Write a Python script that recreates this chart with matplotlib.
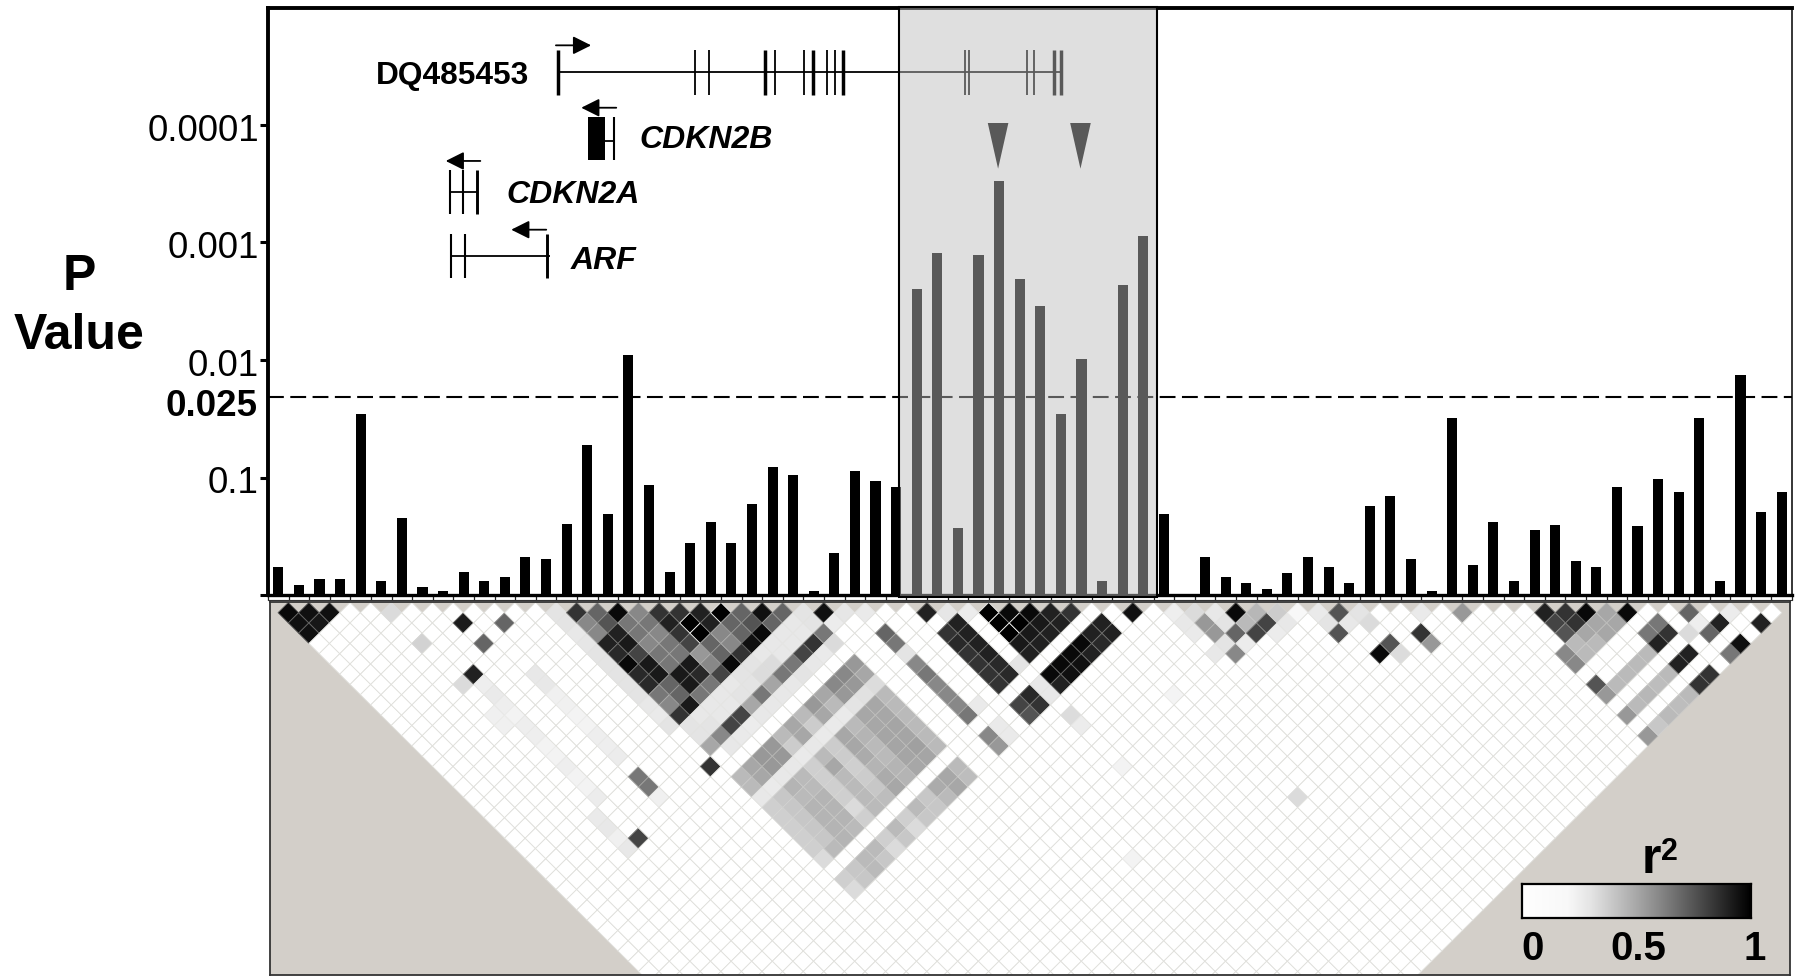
import matplotlib
matplotlib.use('Agg')
import matplotlib.pyplot as plt
from matplotlib.collections import PolyCollection
from matplotlib.colors import LinearSegmentedColormap, to_rgb
from matplotlib.patches import Rectangle
from matplotlib.transforms import ScaledTranslation
import numpy as np

plt.rcParams['font.family'] = ['Liberation Sans', 'DejaVu Sans']

W, H = 1799, 976

# -log10(P) for each SNP, left to right
neglog_p = [0.236, 0.083, 0.134, 0.134, 1.54, 0.117, 0.655, 0.065, 0.031, 0.20,
            0.117, 0.15, 0.326, 0.306, 0.604, 1.28, 0.689, 2.045, 0.934, 0.20,
            0.445, 0.619, 0.445, 0.777, 1.089, 1.019, 0.031, 0.36, 1.053, 0.968,
            0.917, 2.60, 2.913, 0.568, 2.896, 3.523, 2.687, 2.46, 1.54, 2.011,
            0.117, 2.636, 3.053, 0.689, 0.0, 0.326, 0.15, 0.10, 0.049, 0.185,
            0.326, 0.236, 0.10, 0.76, 0.845, 0.306, 0.031, 1.506, 0.253, 0.619,
            0.117, 0.55, 0.60, 0.292, 0.236, 0.917, 0.585, 0.985, 0.879, 1.506,
            0.117, 1.872, 0.706, 0.879]

ytick_pos = [0, 1, 2, 3, 4]
ytick_labels = ['', '0.1', '0.01', '0.001', '0.0001']
threshold_line = 1.683
threshold_label_pos = 1.628
threshold_label = '0.025'

# shaded region, in SNP index units
shade_start = 30.15
shade_end = 42.67
arrow_snps = [35, 39]

# gene tracks, x in SNP index units, y in -log10(P) units
dq_exons_thin = [20.24, 20.90, 24.11, 25.53, 26.64, 27.03, 33.35, 33.54, 36.37, 36.69]
dq_exons_thick = [13.57, 23.63, 25.95, 27.42, 37.68, 38.02]
cdkn2a_exons = [8.33, 8.96, 9.66]
arf_exons = [8.41, 9.06, 13.06]

# r2 by depth (j - i) as {depth: [(i + j, r2), ...]}, unlisted cells are close to 0
ld_by_depth = {
    1: [(1, .97), (3, .95), (5, .95), (11, .33), (27, .3), (29, .85), (31, .7), (33, .97), (35, .6),
        (37, .85), (39, .85), (41, .9), (43, 1), (45, .7), (47, .95), (49, .7), (51, .3), (53, .95),
        (55, .29), (57, .27), (63, .9), (65, .29), (67, .26), (69, 1), (71, .97), (73, .97), (75, .9),
        (77, .85), (83, .95), (87, .25), (89, .33), (91, .28), (93, .97), (95, .45), (97, .38),
        (99, .2), (101, .27), (103, .75), (105, .3), (111, .27), (115, .55), (123, .9), (125, .85),
        (127, .97), (129, .5), (131, .97), (137, .7), (141, .26)],
    2: [(2, .95), (4, .93), (18, .92), (22, .7), (28, .3), (30, .6), (32, .75), (34, .65), (36, .65),
        (38, .9), (40, 1), (42, .9), (44, .7), (46, .75), (48, .7), (50, .285), (52, .3), (54, .26),
        (66, .9), (70, 1), (72, 1), (74, .925), (76, .9), (80, .9), (88, .285), (90, .55), (92, .3),
        (94, .44), (96, .8), (98, .285), (102, .3), (104, .285), (106, .33), (124, .8), (126, .85),
        (128, .5), (130, .5), (134, .65), (138, .25), (140, .9), (144, .9)],
    3: [(3, .95), (29, .28), (31, .6), (33, .9), (35, .65), (37, .6), (39, .85), (41, 1), (43, .6),
        (45, .7), (47, .97), (49, .285), (51, .285), (53, .65), (59, .7), (65, .85), (67, .9), (71, 1),
        (73, .925), (75, .9), (79, .9), (81, .9), (89, .27), (91, .55), (93, .7), (95, .8), (97, .26),
        (103, .75), (111, .85), (125, .75), (127, .5), (129, .5), (133, .65), (135, .85), (137, .33),
        (139, .7)],
    4: [(14, .36), (20, .7), (30, .29), (32, .9), (34, .925), (36, .6), (38, .65), (40, .8), (42, .7),
        (44, .6), (46, .95), (48, .285), (50, .285), (52, .85), (54, .33), (60, .65), (66, .875),
        (68, .9), (72, .925), (74, .9), (78, .97), (80, .875), (92, .3), (94, .26), (108, .75),
        (112, .55), (126, .44), (128, .44), (134, .9), (142, .95)],
    5: [(31, .3), (33, .875), (35, .8), (37, .65), (39, .65), (41, .55), (43, .7), (45, .85), (47, .285),
        (49, .285), (51, .8), (53, .27), (61, .3), (67, .85), (69, .9), (73, .9), (77, .97), (79, .9),
        (91, .285), (93, .6), (107, .97), (109, .325), (125, .6), (127, .44), (133, .44), (137, .9),
        (141, .65)],
    6: [(32, .3), (34, .97), (36, .925), (38, .65), (40, .925), (42, .6), (44, .97), (46, .3), (48, .325),
        (50, .65), (52, .285), (62, .6), (68, .85), (70, .875), (72, .3), (76, .97), (78, .95), (126, .6),
        (132, .44), (136, .9)],
    7: [(19, .9), (25, .28), (33, .3), (35, .875), (37, .925), (39, .925), (41, .875), (43, .8), (45, .3),
        (47, .325), (49, .65), (51, .3), (63, .65), (69, .85), (71, .875), (75, .97), (77, .95),
        (131, .44), (135, .44), (139, .85)],
    8: [(18, .33), (20, .25), (26, .28), (34, .3), (36, .875), (38, .7), (40, .925), (42, .65), (44, .285),
        (46, .3), (48, .51), (50, .285), (64, .6), (70, .85), (74, .285), (76, .9), (128, .75), (130, .44),
        (134, .43), (138, .85)],
    9: [(21, .27), (27, .24), (35, .3), (37, .65), (39, .7), (41, .65), (43, .285), (45, .3), (47, .65),
        (49, .285), (65, .6), (73, .875), (75, .285), (87, .22), (129, .55), (133, .45), (137, .44)],
    10: [(22, .25), (28, .24), (36, .285), (38, .6), (40, .925), (42, .285), (44, .285), (46, .5), (48, .285),
         (66, .6), (68, .27), (72, .8), (74, .85), (132, .44), (136, .43)],
    11: [(21, .24), (23, .23), (29, .23), (37, .27), (39, .85), (41, .285), (43, .285), (45, .8), (47, .285),
         (67, .65), (73, .75), (77, .325), (131, .55), (135, .44)],
    12: [(22, .24), (24, .25), (30, .23), (38, .3), (40, .3), (42, .3), (44, .8), (46, .26), (70, .27),
         (78, .26), (134, .395)],
    13: [(25, .25), (31, .25), (41, .3), (43, .6), (45, .27), (69, .6), (71, .27), (133, .55)],
    14: [(26, .23), (32, .25), (42, .5), (44, .285), (70, .55)],
    15: [(27, .23), (33, .26)],
    16: [(28, .25), (42, .85), (82, .23)],
    17: [(29, .23), (35, .65)],
    18: [(30, .23), (36, .65)],
    19: [(31, .26), (37, .24), (99, .33)],
    21: [(31, .27)],
    22: [(32, .28)],
    23: [(33, .24), (35, .8)],
    24: [(34, .28)],
    25: [(83, .23)],
}

# blocks of moderate LD, rows are SNP i = 14..25
block_first_i = 14
block_a_cols = [31, 32]
block_a = [[.44, .44], [.5, .5], [.55, .55], [.55, .55], [.44, .38], [.5, .5],
           [.44, .38], [.55, .5], [.5, .44], [.6, .55], [.6, .55], [.55, .5]]
block_light_cols = [33]
block_light = [[.285], [.27], [.285], [.285], [.27], [.285],
               [.27], [.27], [.27], [.30], [.31], [.325]]
block_b_cols = [34, 35, 36, 37, 38, 39]
block_b = [[.37, .37, .37, .37, .37, .33],
           [.395, .395, .395, .395, .395, .44],
           [.46, .44, .46, .46, .46, .46],
           [.44, .44, .46, .46, .46, .44],
           [.37, .37, .37, .37, .33, .37],
           [.44, .5, .44, .44, .44, .44],
           [.38, .38, .37, .38, .395, .43],
           [.5, .5, .49, .46, .49, .5],
           [.44, .46, .44, .44, .46, .46],
           [.5, .5, .51, .51, .51, .5],
           [.5, .5, .51, .51, .525, .51],
           [.44, .44, .44, .44, .44, .44]]
block_c_cols = [41, 42]
block_c = [[.37, .33], [.395, .395], [.44, .44], [.44, .395], [.37, .33], [.44, .395],
           [.37, .33], [.44, .395], [.395, .395], [.49, .44], [.5, .5], [.44, .43]]

r2_stops = [0, .2, .3, .4, .5, .6, .7, .8, .9, 1]
r2_grays = [255, 248, 228, 198, 168, 136, 102, 68, 34, 0]
r2_tick_labels = ['0', '0.5', '1']

n_snps = len(neglog_p)
max_depth = 38

snp_px = 20.6      # pixels between SNPs
first_snp_px = 278
decade_px = 117.5
tan = '#d3cfc9'
grid_color = '#e0e0dc'


def add_axes_px(left, top, right, bottom):
    return fig.add_axes([left / W, 1 - bottom / H, (right - left) / W, (bottom - top) / H])


def fig_text(px, py, s, **kw):
    return fig.text(px / W, 1 - py / H, s, **kw)


fig = plt.figure(figsize=(W / 100, H / 100), dpi=100)

# ---------- LD triangle ----------
r2 = {}
for depth, cells in ld_by_depth.items():
    for col, val in cells:
        r2[(col, depth)] = val
for cols, rows in [(block_a_cols, block_a), (block_light_cols, block_light),
                   (block_b_cols, block_b), (block_c_cols, block_c)]:
    for n, row in enumerate(rows):
        i = block_first_i + n
        for j, val in zip(cols, row):
            r2[(i + j, j - i)] = val

ld_cmap = LinearSegmentedColormap.from_list(
    'ld', [(s, (g / 255, g / 255, g / 255)) for s, g in zip(r2_stops, r2_grays)], N=256)

polys = []
vals = []
for i in range(n_snps):
    for j in range(i + 1, min(i + max_depth, n_snps)):
        col = i + j
        depth = j - i
        polys.append([(col / 2 - .5, depth), (col / 2, depth - 1), (col / 2 + .5, depth), (col / 2, depth + 1)])
        vals.append(r2.get((col, depth), 0))

# white cells get the pale grid colour, shaded cells a line close to their own tone
grid_rgb = np.array(to_rgb(grid_color))
edges = []
for v in vals:
    if v == 0:
        edges.append(grid_rgb)
    else:
        edges.append(0.6 * np.array(ld_cmap(v)[:3]) + 0.4 * grid_rgb)

ax_ld = add_axes_px(270, 602, 1790, 975)
ax_ld.set_facecolor(tan)
cells = PolyCollection(polys, array=np.array(vals), cmap=ld_cmap, clim=(0, 1),
                       edgecolors=edges, linewidths=0.6)
ax_ld.add_collection(cells)
ax_ld.set_xlim((270 - first_snp_px) / snp_px, (1790 - first_snp_px) / snp_px)
ax_ld.set_ylim(1 + (975 - 612.7) / 10.25, 1 + (602 - 612.7) / 10.25)
ax_ld.set_xticks([])
ax_ld.set_yticks([])
for s in ax_ld.spines.values():
    s.set_linewidth(1.3)
    s.set_color('#333333')

# ---------- P value bars ----------
ax = add_axes_px(268, 8, 1792, 595)
ax.patch.set_alpha(0)
ax.bar(range(n_snps), neglog_p, width=0.49, color='black', zorder=3)
ax.set_xlim((268 - first_snp_px) / snp_px, (1792 - first_snp_px) / snp_px)
ax.set_ylim(0, 587 / decade_px)

ax.set_yticks(ytick_pos)
ax.set_yticklabels(ytick_labels, fontsize=26.5)
ax.tick_params(axis='y', length=6, width=2.2, pad=0.5)
ax.set_xticks(np.arange(n_snps + 1) - 0.5)
ax.set_xticklabels([])
ax.tick_params(axis='x', length=3.6, width=0.9, color='#222222')
label_shift = ScaledTranslation(0, -2.5 / 100, fig.dpi_scale_trans)
for lab in ax.get_yticklabels():
    lab.set_transform(lab.get_transform() + label_shift)

ax.spines['left'].set_linewidth(2.8)
ax.spines['top'].set_linewidth(2.8)
ax.spines['bottom'].set_linewidth(2.4)
ax.spines['right'].set_linewidth(1.1)

# ruler line under the ticks
ax.plot([-0.5, n_snps - 0.5], [-5 / decade_px, -5 / decade_px], color='#333333', lw=0.8, clip_on=False)

ax.plot([ax.get_xlim()[0], ax.get_xlim()[1]], [threshold_line, threshold_line], color='black', lw=1.5,
        linestyle=(0, (7.6, 3.1)), dash_capstyle='butt', zorder=2)
ax.text(-0.0072, threshold_label_pos - 0.02, threshold_label, transform=ax.get_yaxis_transform(),
        ha='right', va='center', fontsize=26.5, fontweight='bold')

# ---------- gene tracks ----------
ln = dict(color='black', solid_capstyle='butt', zorder=4)
ax.plot([dq_exons_thick[0], dq_exons_thick[-1]], [4.451, 4.451], lw=1.3, **ln)
ax.vlines(dq_exons_thin, 4.255, 4.638, color='black', lw=1.3, zorder=4)
ax.vlines(dq_exons_thick, 4.255, 4.638, color='black', lw=2.5, zorder=4)

ax.add_patch(Rectangle((15.02, 3.70), 0.83, 0.371, color='black', lw=0, zorder=4))
ax.plot([15.85, 16.28], [3.864, 3.864], lw=1.3, **ln)
ax.vlines([16.28], 3.70, 4.071, color='black', lw=1.5, zorder=4)

ax.plot([cdkn2a_exons[0], cdkn2a_exons[-1]], [3.427, 3.427], lw=1.3, **ln)
ax.vlines(cdkn2a_exons[:2], 3.243, 3.617, color='black', lw=1.5, zorder=4)
ax.vlines(cdkn2a_exons[2:], 3.243, 3.617, color='black', lw=2.1, zorder=4)

ax.plot([arf_exons[0], 13.2], [2.885, 2.885], lw=1.3, **ln)
ax.vlines(arf_exons[:2], 2.698, 3.072, color='black', lw=1.5, zorder=4)
ax.vlines(arf_exons[2:], 2.698, 3.072, color='black', lw=2.1, zorder=4)

arrow = dict(arrowstyle='-|>,head_length=1.1,head_width=0.55', mutation_scale=10, color='black',
             lw=1.3, shrinkA=0, shrinkB=0)
for x0, x1, y in [(13.48, 15.19, 4.678), (16.41, 14.71, 4.147), (9.81, 8.13, 3.694), (13.01, 11.31, 3.109)]:
    ax.annotate('', xy=(x1, y), xytext=(x0, y), arrowprops=arrow, zorder=4)

ax.text(4.72, 4.42, 'DQ485453', ha='left', va='center', fontsize=22.8, fontweight='bold')
for x, y, name in [(17.55, 3.875, 'CDKN2B'), (11.07, 3.40, 'CDKN2A'), (14.20, 2.84, 'ARF')]:
    ax.text(x, y, name, ha='left', va='center', fontsize=23, fontweight='bold', fontstyle='italic')

for s in arrow_snps:
    ax.fill([s - 0.55, s + 0.45, s - 0.05], [4.017, 4.017, 3.628], color='black', lw=0, zorder=4)

# translucent box over the associated region, greys everything under it
ax.add_patch(Rectangle((shade_start, -0.02), shade_end - shade_start, 5.02, facecolor='#bdbdbd',
                       alpha=0.475, lw=0, zorder=10, clip_on=False))
ax.add_patch(Rectangle((shade_start, -0.02), shade_end - shade_start, 5.02, fill=False,
                       edgecolor='black', lw=1.5, zorder=11, clip_on=False))

# ---------- side labels ----------
fig_text(79, 290, 'P', ha='center', va='baseline', fontsize=36, fontweight='bold')
fig_text(79, 348.6, 'Value', ha='center', va='baseline', fontsize=36, fontweight='bold')

# ---------- r2 legend ----------
ax_leg = add_axes_px(1522, 884, 1751, 918)
ax_leg.imshow(np.linspace(0, 1, 256).reshape(1, -1), cmap=ld_cmap, aspect='auto', vmin=0, vmax=1)
ax_leg.set_xticks([])
ax_leg.set_yticks([])
for s in ax_leg.spines.values():
    s.set_linewidth(1.6)

fig_text(1642, 873, 'r', ha='left', va='baseline', fontsize=36, fontweight='bold')
fig_text(1661, 860, '2', ha='left', va='baseline', fontsize=22, fontweight='bold')
for px, lab in zip([1533, 1638, 1755], r2_tick_labels):
    fig_text(px, 960, lab, ha='center', va='baseline', fontsize=29, fontweight='bold')

fig.savefig('out.png', dpi=100)
